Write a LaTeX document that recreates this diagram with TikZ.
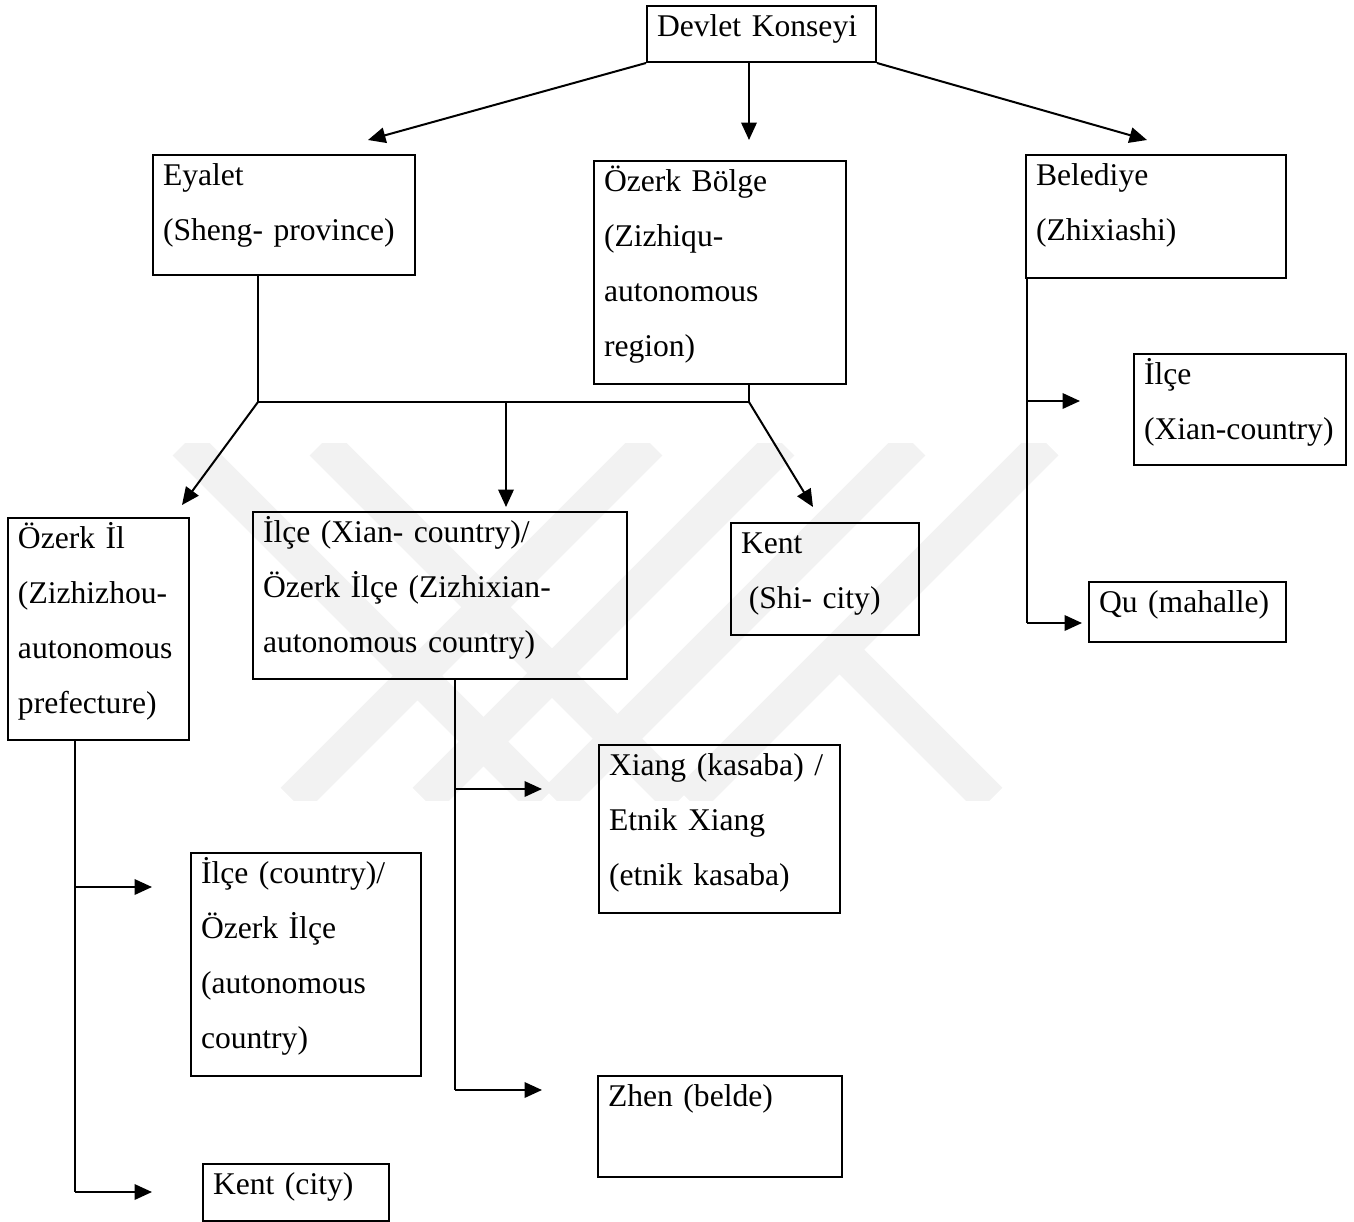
\documentclass[tikz,border=0pt]{standalone}
\usepackage{fontspec}
\setmainfont{Liberation Serif}
\usetikzlibrary{arrows.meta}

\newcommand{\boxfont}{\fontsize{12.64pt}{22pt}\selectfont}
\hyphenpenalty=10000
\exhyphenpenalty=10000

\tikzset{
  unit/.style={draw, line width=0.8pt, anchor=north west, align=left,
    inner xsep=4pt, inner ysep=0pt, text height=12pt, font=\boxfont},
  boxsize/.code 2 args={%
    \pgfmathsetmacro\boxw{0.4*#1-8}%
    \pgfmathsetmacro\boxd{0.4*#2-12}%
    \edef\boxnext{\noexpand\tikzset{text width=\boxw pt, text depth=\boxd pt}}%
    \boxnext},
  arr/.style={line width=0.8pt, -{Triangle[length=7pt,width=6.2pt]}},
  tie/.style={line width=0.6pt},
  band/.style={line width=14pt, black!5},
}

\begin{document}
\begin{tikzpicture}[x=0.4pt, y=-0.4pt]
\useasboundingbox (0,0) rectangle (1354,1221);

% faint watermark behind the chart
\begin{scope}
\clip (0,443) rectangle (1354,800);
\draw[band] (185,443) -- (542,800);
\draw[band] (322,443) -- (679,800);
\draw[band] (650,443) -- (293,800);
\draw[band] (782,443) -- (425,800);
\draw[band] (913,443) -- (556,800);
\draw[band] (1046,443) -- (689,800);
\draw[band] (840,650) -- (990,800);
\end{scope}

% boxes
\node[unit, boxsize={229}{56}] (dev) at (646,5) {Devlet Konseyi};
\node[unit, boxsize={262}{120}] (eya) at (152,154) {Eyalet\\(Sheng- province)};
\node[unit, boxsize={252}{223}] (ozb) at (593,160) {Özerk Bölge\\(Zizhiqu-\\autonomous\\region)};
\node[unit, boxsize={260}{123}] (bel) at (1025,154) {Belediye\\(Zhixiashi)};
\node[unit, boxsize={212}{111}] (xianb) at (1133,353) {İlçe\\(Xian-country)};
\node[unit, boxsize={197}{60}] (qu) at (1088,581) {Qu (mahalle)};
\node[unit, boxsize={181}{222}] (ozil) at (7,517) {Özerk İl\\(Zizhizhou-\\autonomous\\prefecture)};
\node[unit, boxsize={374}{167}] (ilx) at (252,511) {İlçe (Xian- country)/\\Özerk İlçe (Zizhixian-\\autonomous country)};
\node[unit, boxsize={188}{112}] (kent1) at (730,522) {Kent\\\hspace*{0.25em}(Shi- city)};
\node[unit, boxsize={230}{223}] (ilc) at (190,852) {İlçe (country)/\\Özerk İlçe\\(autonomous\\country)};
\node[unit, boxsize={186}{57}] (kent2) at (202,1163) {Kent (city)};
\node[unit, boxsize={241}{168}] (xiang) at (598,744) {Xiang (kasaba) /\\Etnik Xiang\\(etnik kasaba)};
\node[unit, boxsize={244}{101}] (zhen) at (597,1075) {Zhen (belde)};

% top level
\coordinate (d1) at (368,140);
\coordinate (d2) at (749,140);
\coordinate (d3) at (1147,140);
\draw[arr] (dev.south west) -- (d1);
\draw[arr] (dev.south -| d2) -- (d2);
\draw[arr] (dev.south east) -- (d3);

% Eyalet and Özerk Bölge
\coordinate (j1) at (258,402);
\coordinate (j2) at (506,402);
\coordinate (j3) at (749,402);
\coordinate (b1) at (182,505);
\coordinate (b3) at (813,507);
\draw[tie] (eya.south -| j1) -- (j1) -- (j3) -- (ozb.south -| j3);
\draw[arr] (j1) -- (b1);
\draw[arr, shorten >=1.6pt] (j2) -- (j2 |- ilx.north);
\draw[arr] (j3) -- (b3);

% Belediye
\coordinate (k1) at (1027,401);
\coordinate (k2) at (1027,623);
\coordinate (e1) at (1080,401);
\coordinate (e2) at (1082,623);
\draw[line width=0.8pt] (k1 |- bel.south) -- (k2);
\draw[arr] (k1) -- (e1);
\draw[arr] (k2) -- (e2);

% Özerk İl
\coordinate (m1) at (75,887);
\coordinate (m2) at (75,1192);
\coordinate (f1) at (152,887);
\coordinate (f2) at (152,1192);
\draw[tie] (ozil.south -| m1) -- (m2);
\draw[arr] (m1) -- (f1);
\draw[arr] (m2) -- (f2);

% İlçe / Özerk İlçe
\coordinate (n1) at (455,789);
\coordinate (n2) at (455,1090);
\coordinate (g1) at (542,789);
\coordinate (g2) at (542,1090);
\draw[tie] (ilx.south -| n1) -- (n2);
\draw[arr] (n1) -- (g1);
\draw[arr] (n2) -- (g2);

\end{tikzpicture}
\end{document}
